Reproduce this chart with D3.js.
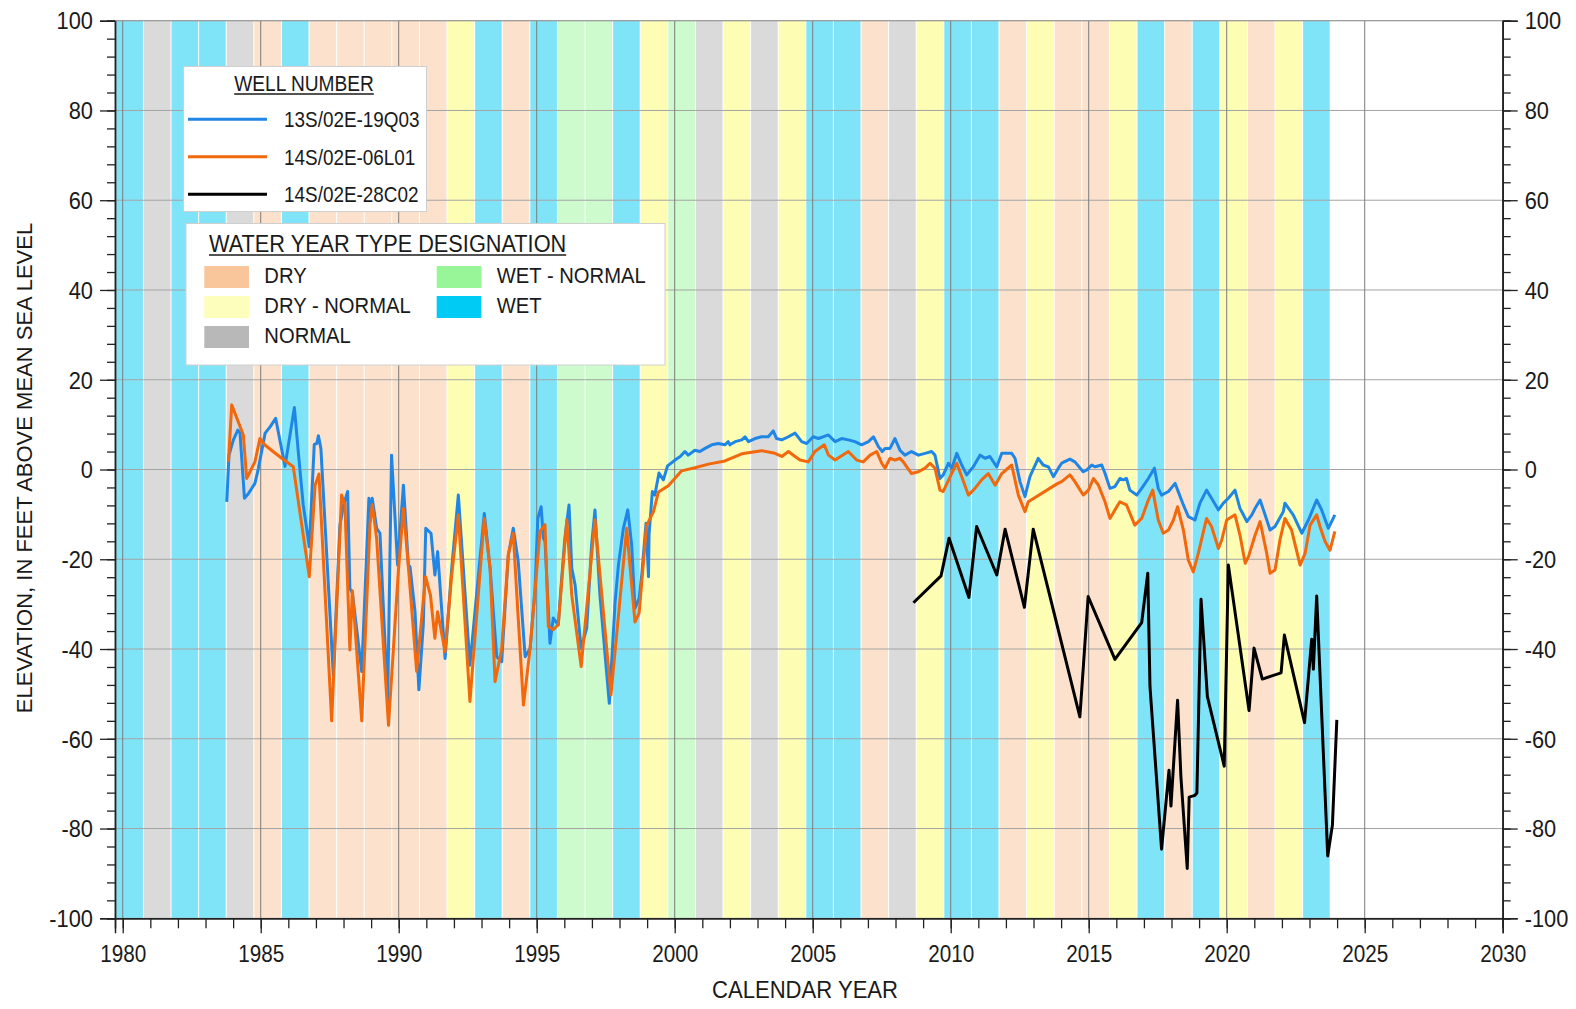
<!DOCTYPE html>
<html><head><meta charset="utf-8">
<script src="https://cdn.jsdelivr.net/npm/d3@7"></script>
<style>
html,body{margin:0;padding:0;background:#fff;}
svg{display:block;}
text{font-family:"Liberation Sans", Arial, sans-serif; fill:#1a1a1a;}
</style></head><body>
<svg id="chart" width="1576" height="1009"></svg>
<script>
// ---------------- DATA ----------------
const waterYears = d3.range(1980, 2024);
const waterYearTypes = ["W","N","W","W","N","D","W","D","D","D","D","D","DN","W","D","W","WN","WN","W","DN",
  "WN","N","DN","N","DN","W","W","D","N","DN","W","W","D","DN","D","D","DN","W","D","W","DN","D","DN","W"];
const typeLabels = {D:"DRY", DN:"DRY - NORMAL", N:"NORMAL", WN:"WET - NORMAL", W:"WET"};
const wellNames = ["13S/02E-19Q03","14S/02E-06L01","14S/02E-28C02"];
const xTickYears = d3.range(1980, 2031, 5);
const yTickValues = d3.range(-100, 101, 20);

const well19Q03 = [[1983.77,-7.2],[1983.85,3.2],[1984.01,6.6],[1984.17,8.8],[1984.25,8.1],[1984.41,-6.4],[1984.55,-5.4],[1984.79,-3.1],[1984.91,0.1],[1985.16,8.1],[1985.34,9.5],[1985.54,11.4],[1985.88,0.7],[1986.22,13.8],[1986.36,4.0],[1986.54,-7.9],[1986.76,-17.2],[1986.94,5.6],[1987.03,5.8],[1987.09,7.5],[1987.18,4.7],[1987.63,-45.8],[1987.87,-12.4],[1988.0,-7.9],[1988.15,-4.9],[1988.23,-26.5],[1988.32,-27.5],[1988.66,-45.0],[1988.92,-6.4],[1988.96,-11.5],[1989.04,-6.4],[1989.2,-13.1],[1989.32,-14.2],[1989.6,-51.7],[1989.74,3.2],[1989.96,-21.3],[1990.17,-3.5],[1990.35,-21.3],[1990.41,-21.7],[1990.59,-31.7],[1990.73,-49.1],[1990.89,-34.6],[1990.98,-13.1],[1991.17,-14.2],[1991.31,-23.5],[1991.41,-18.3],[1991.68,-42.1],[1991.92,-22],[1992.16,-5.7],[1992.58,-43.6],[1993.1,-9.8],[1993.31,-22],[1993.55,-41.7],[1993.73,-42.8],[1993.97,-19.1],[1994.15,-13.1],[1994.33,-20.5],[1994.58,-41.7],[1994.76,-39.9],[1994.94,-26.5],[1995.04,-10.9],[1995.16,-8.3],[1995.24,-15.3],[1995.3,-16],[1995.48,-38.7],[1995.6,-33.1],[1995.78,-34.6],[1995.9,-24.6],[1996.02,-15.3],[1996.17,-7.9],[1996.27,-22],[1996.39,-25.7],[1996.61,-39.9],[1996.81,-35.4],[1996.99,-16.8],[1997.11,-9.0],[1997.29,-28],[1997.63,-52.1],[1997.84,-29.5],[1997.96,-21.3],[1998.14,-13.1],[1998.3,-9.0],[1998.44,-16.8],[1998.56,-30.9],[1998.71,-28.7],[1998.8,-23.9],[1998.96,-12.0],[1999.05,-23.9],[1999.07,-14.5],[1999.19,-4.9],[1999.28,-5.7],[1999.43,-0.8],[1999.59,-2.3],[1999.74,0.8],[2000.01,2.1],[2000.2,2.9],[2000.37,4.0],[2000.49,3.2],[2000.73,4.3],[2000.91,4.0],[2001.1,4.7],[2001.34,5.5],[2001.58,5.8],[2001.82,5.5],[2001.94,6.2],[2002.0,5.5],[2002.19,6.2],[2002.43,6.6],[2002.55,7.3],[2002.67,6.2],[2002.91,6.9],[2003.15,7.3],[2003.39,7.3],[2003.57,8.6],[2003.69,6.9],[2003.88,6.6],[2004.12,7.3],[2004.36,8.1],[2004.6,6.2],[2004.78,5.8],[2005.02,7.3],[2005.21,6.9],[2005.57,7.7],[2005.81,6.2],[2006.05,6.9],[2006.29,6.6],[2006.53,6.2],[2006.77,5.5],[2007.02,6.2],[2007.2,7.3],[2007.38,5.1],[2007.52,4.0],[2007.62,4.7],[2007.8,4.7],[2007.98,6.9],[2008.16,4.3],[2008.34,3.2],[2008.58,4.0],[2008.83,3.2],[2009.07,3.6],[2009.31,4.0],[2009.43,3.2],[2009.61,-2.0],[2009.73,-1.2],[2009.92,1.4],[2010.04,0.3],[2010.22,3.6],[2010.4,1.0],[2010.58,-1.2],[2010.82,0.6],[2011.06,3.2],[2011.24,2.5],[2011.42,2.9],[2011.67,0.6],[2011.85,3.6],[2012.21,3.6],[2012.33,2.5],[2012.51,-2.7],[2012.69,-6.05],[2012.87,-1.6],[2013.17,2.5],[2013.35,1.0],[2013.54,0.6],[2013.72,-1.6],[2013.9,0.3],[2014.02,1.4],[2014.32,2.3],[2014.5,1.7],[2014.8,-0.5],[2014.93,-0.1],[2015.11,1.0],[2015.23,0.6],[2015.47,1.0],[2015.59,-0.85],[2015.77,-4.2],[2015.95,-3.8],[2016.13,-2.0],[2016.25,-2.3],[2016.37,-2.0],[2016.49,-4.6],[2016.74,-5.7],[2016.92,-4.2],[2017.16,-2.0],[2017.38,0.3],[2017.52,-4.2],[2017.64,-5.7],[2017.89,-4.9],[2018.13,-3.1],[2018.43,-7.9],[2018.61,-10.5],[2018.85,-11.25],[2019.03,-7.5],[2019.27,-4.6],[2019.45,-6.4],[2019.7,-9.0],[2019.88,-7.5],[2020.06,-6.4],[2020.3,-4.6],[2020.48,-8.65],[2020.73,-11.6],[2020.91,-10.1],[2021.03,-8.65],[2021.21,-6.8],[2021.39,-10.1],[2021.57,-13.5],[2021.75,-12.7],[2022.05,-9.4],[2022.11,-7.5],[2022.41,-10.1],[2022.72,-14.2],[2022.96,-11.25],[2023.26,-6.8],[2023.44,-9.0],[2023.68,-13.1],[2023.92,-10.1]];

const well06L01 = [[1983.83,1.7],[1983.95,14.4],[1984.37,7.7],[1984.49,-2.0],[1984.79,1.7],[1984.97,6.9],[1985.16,5.4],[1985.76,2.5],[1986.18,0.6],[1986.76,-23.9],[1986.97,-3.5],[1987.11,-1.0],[1987.57,-56],[1987.93,-5.7],[1988.05,-7.8],[1988.23,-40.2],[1988.32,-27],[1988.66,-56],[1988.96,-12.0],[1989.04,-7.8],[1989.2,-15.4],[1989.63,-57],[1989.99,-22.4],[1990.17,-8.7],[1990.35,-21.7],[1990.65,-45],[1990.97,-23.9],[1991.15,-28],[1991.31,-37.6],[1991.41,-31.7],[1991.68,-40.6],[1991.92,-23.5],[1992.16,-10.1],[1992.58,-51.7],[1993.1,-10.9],[1993.31,-22],[1993.49,-47.3],[1993.73,-40],[1993.97,-19],[1994.15,-14.2],[1994.28,-28],[1994.52,-52.5],[1994.76,-39.9],[1995.12,-13.8],[1995.3,-12.3],[1995.42,-35],[1995.6,-35.7],[1995.78,-34.6],[1996.09,-11.2],[1996.27,-28],[1996.61,-43.9],[1997.11,-11.2],[1997.69,-50.2],[1998.26,-13.1],[1998.56,-34],[1998.71,-32],[1998.98,-12.5],[1999.23,-9.4],[1999.41,-5],[1999.77,-3.6],[2000.25,-0.3],[2000.73,0.4],[2001.22,1.2],[2001.82,1.9],[2002.43,3.5],[2003.15,4.2],[2003.63,3.6],[2003.88,2.9],[2004.12,4.0],[2004.36,2.9],[2004.54,2.1],[2004.84,1.7],[2005.08,4.0],[2005.42,5.5],[2005.57,3.2],[2005.81,2.1],[2006.29,4.0],[2006.59,2.1],[2006.83,1.7],[2007.08,3.2],[2007.32,4.0],[2007.5,1.4],[2007.62,0.3],[2007.8,2.5],[2007.98,2.1],[2008.16,2.5],[2008.28,1.7],[2008.58,-0.9],[2008.83,-0.5],[2009.07,0.3],[2009.25,1.4],[2009.43,0.3],[2009.61,-4.6],[2009.73,-4.9],[2009.98,-1.6],[2010.22,1.4],[2010.4,-1.6],[2010.64,-5.7],[2010.88,-4.2],[2011.12,-2.3],[2011.36,-0.9],[2011.61,-3.5],[2011.85,-0.9],[2012.21,1.0],[2012.45,-5.7],[2012.69,-9.4],[2012.81,-7.2],[2013.85,-3.2],[2014.02,-2.7],[2014.32,-1.2],[2014.5,-2.7],[2014.8,-5.7],[2014.99,-4.6],[2015.17,-2.0],[2015.35,-3.45],[2015.59,-7.2],[2015.77,-10.9],[2015.95,-9.0],[2016.13,-7.2],[2016.37,-7.9],[2016.67,-12.4],[2016.92,-10.9],[2017.16,-6.8],[2017.32,-4.6],[2017.52,-11.25],[2017.7,-14.2],[2017.89,-13.5],[2018.07,-11.25],[2018.22,-8.3],[2018.43,-13.5],[2018.61,-20.2],[2018.79,-22.8],[2018.97,-18.7],[2019.27,-10.9],[2019.45,-12.7],[2019.7,-17.6],[2019.82,-15.7],[2020.0,-11.25],[2020.3,-10.1],[2020.48,-14.6],[2020.67,-20.9],[2020.79,-19.4],[2021.03,-14.6],[2021.21,-11.6],[2021.45,-18.7],[2021.57,-23.1],[2021.75,-22.4],[2021.93,-15.7],[2022.11,-10.9],[2022.35,-13.5],[2022.66,-21.3],[2022.84,-18.7],[2023.02,-12.4],[2023.26,-10.1],[2023.38,-12.7],[2023.56,-16.0],[2023.74,-18.0],[2023.92,-13.8]];

const well28C02 = [[2008.65,-29.7],[2009.65,-23.7],[2009.94,-15.3],[2010.66,-28.5],[2010.94,-12.7],[2011.67,-23.5],[2011.97,-13.3],[2012.67,-30.7],[2012.99,-13.3],[2014.68,-55.1],[2014.98,-28.3],[2015.95,-42.3],[2016.92,-34.1],[2017.14,-23.1],[2017.22,-48.4],[2017.64,-84.6],[2017.91,-67],[2017.98,-75],[2018.22,-51.4],[2018.34,-68.4],[2018.57,-88.9],[2018.64,-73],[2018.85,-72.6],[2018.92,-72.1],[2019.07,-28.9],[2019.3,-50.6],[2019.91,-66.1],[2020.06,-21.3],[2020.81,-53.7],[2020.99,-39.8],[2021.29,-46.7],[2021.97,-45.3],[2022.09,-36.9],[2022.82,-56.4],[2023.08,-37.8],[2023.14,-44.5],[2023.26,-28.2],[2023.66,-86.1],[2023.83,-79.2],[2023.99,-55.8]];

// ---------------- STYLE ----------------
const bandColors = {D:"#fce2cc", DN:"#fdfdb4", N:"#dadada", WN:"#cdfbcd", W:"#80e4f9"};
const swatchColors = {D:"#f9c69c", DN:"#fdfdbc", N:"#b8b8b8", WN:"#98f598", W:"#00cbf5"};
const seriesColors = ["#1f86e6", "#f2680c", "#000000"];
const SX = 0.9;
const SXY = 0.95;

const svg = d3.select("#chart");
const x = d3.scaleLinear().domain([1979.72, 2030]).range([115, 1502.7]);
const y = d3.scaleLinear().domain([-100, 100]).range([918.3, 20.7]);
const [X0, X1] = x.range();
const [Y0, Y1] = y.range();

// bands
const bands = waterYears.map((wy, i) => ({
  start: Math.max(wy - 0.25, x.domain()[0]), end: wy + 0.75, type: waterYearTypes[i]
}));
svg.append("g").selectAll("rect").data(bands).join("rect")
  .attr("x", d => x(d.start) + 0.5)
  .attr("width", d => x(d.end) - x(d.start) - 1)
  .attr("y", Y1).attr("height", Y0 - Y1)
  .attr("fill", d => bandColors[d.type]);

// grid
const grid = svg.append("g");
grid.selectAll("line.h").data(yTickValues).join("line")
  .attr("x1", X0).attr("x2", X1).attr("y1", d => y(d)).attr("y2", d => y(d))
  .attr("stroke", "#a4a4a4").attr("stroke-width", 1);
grid.selectAll("line.v").data(xTickYears).join("line")
  .attr("x1", d => x(d)).attr("x2", d => x(d)).attr("y1", Y1).attr("y2", Y0)
  .attr("stroke", "#7c7c7c").attr("stroke-width", 1);

// lines
const line = d3.line().x(d => x(d[0])).y(d => y(d[1]));
[well19Q03, well06L01, well28C02].forEach((s, i) => {
  svg.append("path").datum(s).attr("d", line)
    .attr("fill", "none").attr("stroke", seriesColors[i])
    .attr("stroke-width", 3).attr("stroke-linejoin", "round");
});

// axes
function styleAxis(g) {
  g.select(".domain").attr("stroke", "#222").attr("stroke-width", 1.5);
  g.selectAll(".tick line").attr("stroke", "#222").attr("stroke-width", 1.3);
}
const fmt = d => String(d);
svg.append("g").attr("transform", `translate(0,${Y0})`)
  .call(d3.axisBottom(x).tickValues(d3.range(1980, 2031)).tickSize(10).tickFormat(""))
  .call(styleAxis);
const bx = svg.append("g").attr("transform", `translate(0,${Y0})`)
  .call(d3.axisBottom(x).tickValues(xTickYears).tickSize(15).tickFormat(fmt))
  .call(styleAxis);
bx.selectAll("text").attr("y", 44).attr("dy", 0).attr("font-size", 23)
  .attr("fill", "#1a1a1a").attr("transform", `scale(${SX},1)`)
  .style("font-family", "Liberation Sans, Arial, sans-serif");
svg.append("g").attr("transform", `translate(${X0},0)`)
  .call(d3.axisLeft(y).tickValues(d3.range(-100, 101, 4)).tickSize(8).tickFormat(""))
  .call(styleAxis);
const ly = svg.append("g").attr("transform", `translate(${X0},0)`)
  .call(d3.axisLeft(y).tickValues(yTickValues).tickSize(15).tickFormat(fmt))
  .call(styleAxis);
ly.selectAll("text").attr("x", -22 / SXY).attr("dy", "0.36em").attr("font-size", 23)
  .attr("fill", "#1a1a1a").attr("transform", `scale(${SXY},1)`)
  .style("font-family", "Liberation Sans, Arial, sans-serif");
svg.append("g").attr("transform", `translate(${X1},0)`)
  .call(d3.axisRight(y).tickValues(d3.range(-100, 101, 4)).tickSize(8).tickFormat(""))
  .call(styleAxis);
const ry = svg.append("g").attr("transform", `translate(${X1},0)`)
  .call(d3.axisRight(y).tickValues(yTickValues).tickSize(15).tickFormat(fmt))
  .call(styleAxis);
ry.selectAll("text").attr("x", 22 / SXY).attr("dy", "0.36em").attr("font-size", 23)
  .attr("fill", "#1a1a1a").attr("transform", `scale(${SXY},1)`)
  .style("font-family", "Liberation Sans, Arial, sans-serif");
svg.append("line").attr("x1", X0).attr("x2", X1).attr("y1", Y1).attr("y2", Y1)
  .attr("stroke", "#999").attr("stroke-width", 1);

// text helper
function addText(g, px, py, str, size, anchor, sx, underline) {
  const t = g.append("text").attr("x", 0).attr("y", 0)
    .attr("transform", `translate(${px},${py}) scale(${sx},1)`)
    .attr("font-size", size).attr("text-anchor", anchor).text(str);
  if (underline) {
    const w = t.node().getComputedTextLength() * sx;
    const x0 = anchor === "middle" ? px - w / 2 : px;
    g.append("line").attr("x1", x0).attr("x2", x0 + w).attr("y1", py + 3).attr("y2", py + 3)
      .attr("stroke", "#1a1a1a").attr("stroke-width", 1.3);
  }
  return t;
}

// axis titles
addText(svg, 805, 998, "CALENDAR YEAR", 23, "middle", 0.96, false);
svg.append("text").attr("transform", "translate(32,468) rotate(-90)")
  .attr("text-anchor", "middle").attr("font-size", 22)
  .text("ELEVATION, IN FEET ABOVE MEAN SEA LEVEL");

// legend 1
const lg1 = svg.append("g");
lg1.append("rect").attr("x", 183.5).attr("y", 66.5).attr("width", 243).attr("height", 145)
  .attr("fill", "#fff").attr("stroke", "#cfcfcf");
addText(lg1, 304, 91, "WELL NUMBER", 22, "middle", 0.87, true);
const lgRows = [119.3, 156.7, 194.3];
wellNames.forEach((n, i) => {
  lg1.append("line").attr("x1", 188).attr("x2", 267).attr("y1", lgRows[i]).attr("y2", lgRows[i])
    .attr("stroke", seriesColors[i]).attr("stroke-width", 3);
  addText(lg1, 284, lgRows[i] + 8, n, 22, "start", 0.86, false);
});

// legend 2
const lg2 = svg.append("g");
lg2.append("rect").attr("x", 186).attr("y", 223.5).attr("width", 479).attr("height", 141.5)
  .attr("fill", "#fff").attr("stroke", "#cfcfcf");
addText(lg2, 209, 252, "WATER YEAR TYPE DESIGNATION", 23, "start", 0.945, true);
const legendItems = [
  {t:"D", col:0, row:0}, {t:"DN", col:0, row:1}, {t:"N", col:0, row:2},
  {t:"WN", col:1, row:0}, {t:"W", col:1, row:1}
];
const colX = [204.3, 436.7], rowY = [266, 296, 326];
legendItems.forEach(it => {
  lg2.append("rect").attr("x", colX[it.col]).attr("y", rowY[it.row])
    .attr("width", 44.7).attr("height", 22).attr("fill", swatchColors[it.t]);
  addText(lg2, colX[it.col] + 60, rowY[it.row] + 17, typeLabels[it.t], 22, "start", 0.92, false);
});
</script>
</body></html>
